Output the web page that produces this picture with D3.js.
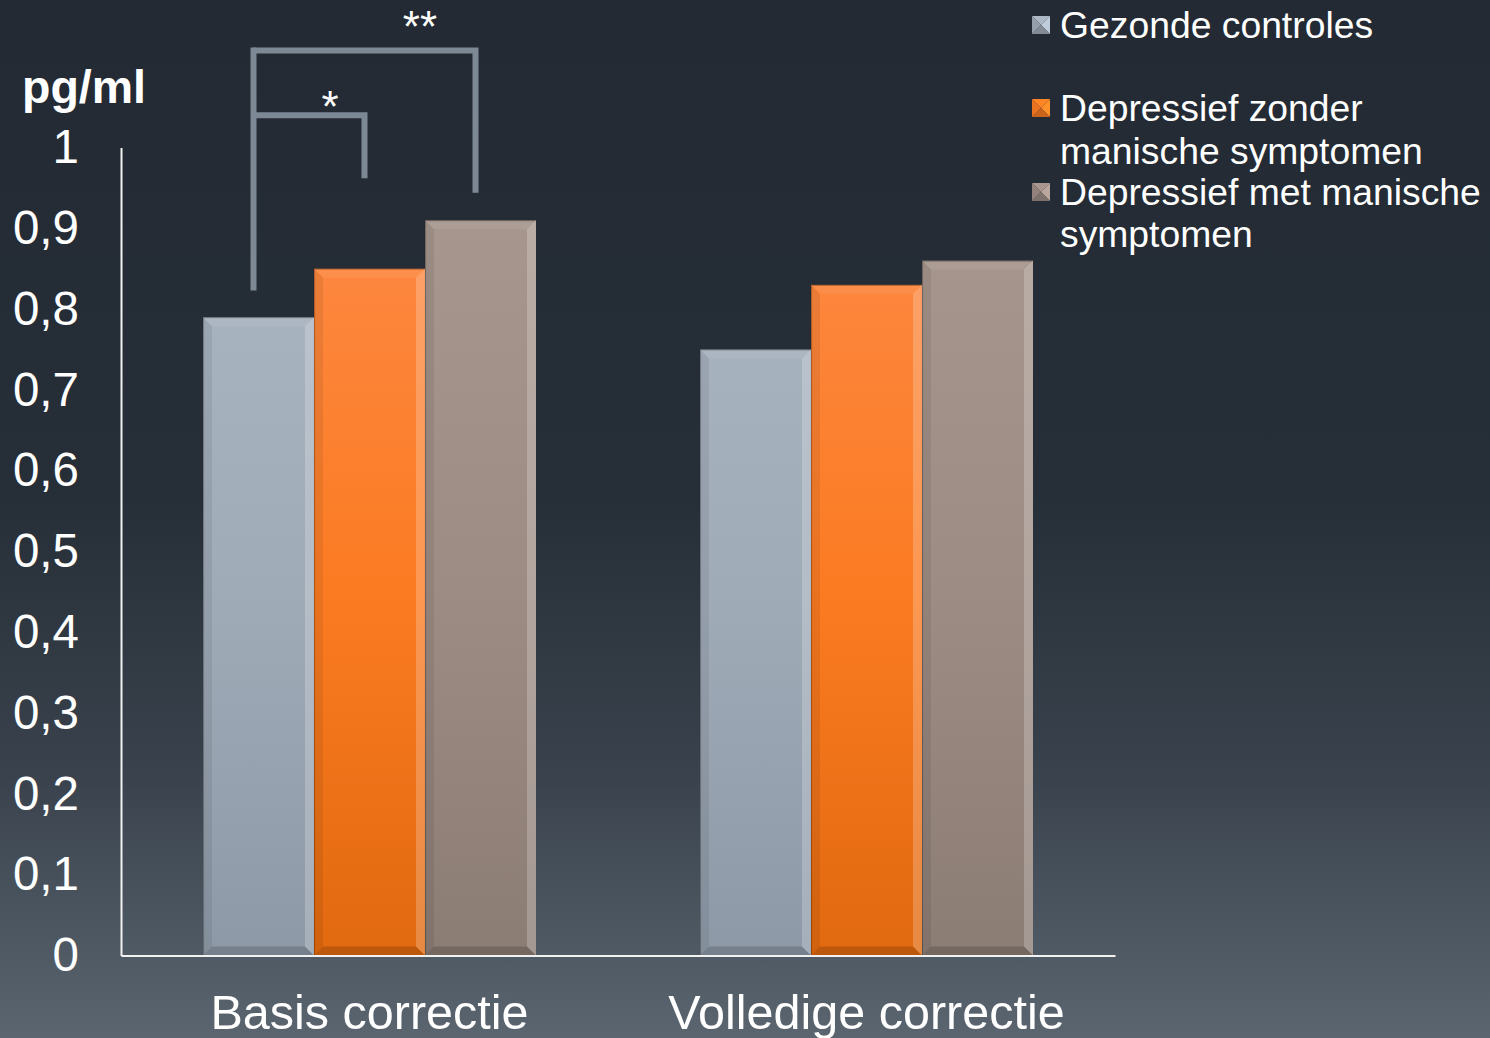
<!DOCTYPE html>
<html>
<head>
<meta charset="utf-8">
<script src="https://cdn.jsdelivr.net/npm/d3@7"></script>
<style>
  html, body { margin: 0; padding: 0; background: #242b34; }
  svg { display: block; }
  text { font-family: "Liberation Sans", Arial, sans-serif; fill: #ffffff; }
</style>
</head>
<body>
<svg id="chart" width="1490" height="1038"></svg>
<script>
// Groups on the x axis
const categories = ["Basis correctie", "Volledige correctie"];
// Series (legend order)
const seriesNames = [
  ["Gezonde controles"],
  ["Depressief zonder", "manische symptomen"],
  ["Depressief met manische", "symptomen"]
];
// Values in pg/ml, one array per series, indexed by category
const gezonde   = [0.79, 0.75];
const zonder    = [0.85, 0.83];
const metManie  = [0.91, 0.86];
const seriesValues = [gezonde, zonder, metManie];
// Y ticks
const yTicks = [0, 0.1, 0.2, 0.3, 0.4, 0.5, 0.6, 0.7, 0.8, 0.9, 1];
const yUnit = "pg/ml";
// Significance brackets within "Basis correctie" (series index pairs)
const sigPairs = [[0, 1], [0, 2]];
const sigLabels = ["*", "**"];

// Colour ramps per series
const palette = [
  { top: "#acb7c4", bottom: "#8d99a7", mid: "#a0abb8" },
  { top: "#fd8b49", bottom: "#e1690f", mid: "#fb7b22" },
  { top: "#a8988f", bottom: "#8b7c74", mid: "#9d8c84" }
];

const W = 1490, H = 1038;
const svg = d3.select("#chart");
const defs = svg.append("defs");

// Background
const bg = defs.append("linearGradient").attr("id", "bg")
  .attr("x1", 0).attr("y1", 0).attr("x2", 0).attr("y2", 1);
bg.append("stop").attr("offset", "0%").attr("stop-color", "#232a33");
bg.append("stop").attr("offset", "48%").attr("stop-color", "#262e37");
bg.append("stop").attr("offset", "75%").attr("stop-color", "#3a434d");
bg.append("stop").attr("offset", "100%").attr("stop-color", "#5a6570");
svg.append("rect").attr("width", W).attr("height", H).attr("fill", "url(#bg)");

// Bar fills
palette.forEach((p, i) => {
  const g = defs.append("linearGradient").attr("id", "bar" + i)
    .attr("gradientUnits", "userSpaceOnUse")
    .attr("x1", 0).attr("y1", 150).attr("x2", 0).attr("y2", 955);
  g.append("stop").attr("offset", "0%").attr("stop-color", p.top);
  g.append("stop").attr("offset", "55%").attr("stop-color", p.mid);
  g.append("stop").attr("offset", "100%").attr("stop-color", p.bottom);
});

// Scales
const x0 = d3.scaleBand().domain(categories).range([121, 1115])
  .paddingInner(0.33).paddingOuter(0.165);
const x1 = d3.scaleBand().domain(d3.range(seriesValues.length))
  .range([0, x0.bandwidth()]).padding(0);
const y = d3.scaleLinear().domain([0, 1]).range([955.5, 147.5]);

// Bars with bevelled edges
const bevel = 9;
const barData = [];
categories.forEach((c, ci) => {
  seriesValues.forEach((vals, si) => {
    barData.push({ c, si, v: vals[ci] });
  });
});

const bars = svg.append("g").selectAll("g.bar").data(barData).join("g").attr("class", "bar");
bars.each(function (d) {
  const g = d3.select(this);
  const bx = x0(d.c) + x1(d.si);
  const bw = x1.bandwidth();
  const by = y(d.v);
  const bh = y(0) - y(d.v);
  const pts = a => a.map(p => p.join(",")).join(" ");
  g.append("rect").attr("x", bx).attr("y", by).attr("width", bw).attr("height", bh)
    .attr("fill", `url(#bar${d.si})`);
  // top
  g.append("polygon").attr("points", pts([[bx, by], [bx + bw, by], [bx + bw - bevel, by + bevel], [bx + bevel, by + bevel]]))
    .attr("fill", "#ffffff").attr("fill-opacity", 0.07);
  // right (highlight)
  g.append("polygon").attr("points", pts([[bx + bw, by], [bx + bw, by + bh], [bx + bw - bevel, by + bh - bevel], [bx + bw - bevel, by + bevel]]))
    .attr("fill", "#ffffff").attr("fill-opacity", 0.22);
  // left (shade)
  g.append("polygon").attr("points", pts([[bx, by], [bx, by + bh], [bx + bevel, by + bh - bevel], [bx + bevel, by + bevel]]))
    .attr("fill", "#000000").attr("fill-opacity", 0.07);
  // bottom (shade)
  g.append("polygon").attr("points", pts([[bx, by + bh], [bx + bw, by + bh], [bx + bw - bevel, by + bh - bevel], [bx + bevel, by + bh - bevel]]))
    .attr("fill", "#000000").attr("fill-opacity", 0.16);
  // edge line
  g.append("path")
    .attr("d", `M${bx + 0.5},${by + bh}V${by + 0.5}H${bx + bw - 0.5}`)
    .attr("fill", "none").attr("stroke", "#000").attr("stroke-opacity", 0.25).attr("stroke-width", 1.2);
});

// Axes
const yAxis = d3.axisLeft(y).tickValues(yTicks).tickSize(0).tickPadding(42)
  .tickFormat(d => d3.format(".1~f")(d).replace(".", ","));
const gy = svg.append("g").attr("transform", "translate(121,0)").call(yAxis);
gy.select(".domain").attr("stroke", "#f2f2f2").attr("stroke-width", 2);
gy.selectAll("text").attr("font-size", 47.5).attr("fill", "#fff")
  .attr("font-family", "'Liberation Sans', Arial, sans-serif");

const xAxis = d3.axisBottom(x0).tickSize(0).tickPadding(39);
const gx = svg.append("g").attr("transform", "translate(0,955.5)").call(xAxis);
gx.select(".domain").attr("stroke", "#f2f2f2").attr("stroke-width", 2);
gx.selectAll("text").attr("font-size", 48.5).attr("fill", "#fff")
  .attr("font-family", "'Liberation Sans', Arial, sans-serif");

// Unit label
svg.append("text").attr("x", 84).attr("y", 103).attr("text-anchor", "middle")
  .attr("font-size", 46.5).attr("font-weight", "bold").text(yUnit);

// Significance brackets
const cat = categories[0];
const barCenter = si => x0(cat) + x1(si) + x1.bandwidth() / 2 - 5;
const outerLevel = 1.12, innerLevel = 1.04;
const levels = [innerLevel, outerLevel];
const leftFoot = 0.823;
const rightFeet = [0.962, 0.944];
const bracketColor = "#7d8895";
const br = svg.append("g").attr("fill", "none").attr("stroke", bracketColor).attr("stroke-width", 6);
// shared left leg
br.append("line").attr("x1", barCenter(0)).attr("x2", barCenter(0))
  .attr("y1", y(leftFoot)).attr("y2", y(outerLevel) - 3);
sigPairs.forEach(([a, b], i) => {
  br.append("path").attr("d",
    `M${barCenter(a)},${y(levels[i])}H${barCenter(b)}V${y(rightFeet[i])}`);
});
// labels
const labelX = [x0(cat) + x1(1) + 16, x0(cat) + x1(2) - 5];
sigPairs.forEach((p, i) => {
  svg.append("text").attr("x", labelX[i]).attr("y", y(levels[i]) + (i === 0 ? 7 : -9))
    .attr("text-anchor", "middle").attr("font-size", 44).text(sigLabels[i]);
});

// Legend
const legend = svg.append("g").attr("transform", "translate(1032,0)");
const legendBaselines = [[38], [121, 164], [205, 247]];
const mk = 18;
seriesNames.forEach((lines, i) => {
  const base = legendBaselines[i][0];
  const g = legend.append("g").attr("transform", `translate(0,${base - 22})`);
  const p = palette[i];
  const c = d3.color(p.mid);
  // pyramid-style marker
  g.append("polygon").attr("points", `0,0 ${mk},0 ${mk / 2},${mk / 2}`).attr("fill", c.brighter(0.2));
  g.append("polygon").attr("points", `${mk},0 ${mk},${mk} ${mk / 2},${mk / 2}`).attr("fill", c.brighter(0.5));
  g.append("polygon").attr("points", `0,${mk} ${mk},${mk} ${mk / 2},${mk / 2}`).attr("fill", c.darker(0.6));
  g.append("polygon").attr("points", `0,0 0,${mk} ${mk / 2},${mk / 2}`).attr("fill", c.darker(0.2));
  lines.forEach((t, li) => {
    legend.append("text").attr("x", 28).attr("y", legendBaselines[i][li])
      .attr("font-size", 37.3).text(t);
  });
});
</script>
</body>
</html>
